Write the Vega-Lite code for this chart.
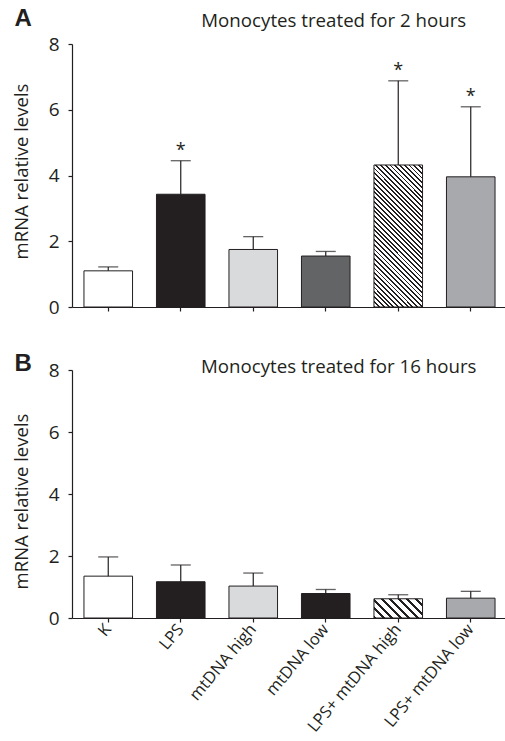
{
  "$schema": "https://vega.github.io/schema/vega-lite/v6.json",
  "padding": {"left": 12, "top": 7, "right": 0, "bottom": 0},
  "background": "white",
  "spacing": 35,
  "config": {
    "view": {"stroke": null},
    "font": "Open Sans",
    "axis": {
      "labelFont": "Open Sans", "titleFont": "Open Sans", "titleFontWeight": "normal",
      "labelColor": "#231f20", "titleColor": "#231f20", "domainColor": "#231f20", "tickColor": "#231f20",
      "domainWidth": 1.2, "tickWidth": 1.2, "tickSize": 4, "grid": false
    }
  },
  "datasets": {
    "main": [
      {"panel": "A", "group": "K", "mean": 1.1, "upper": 1.22, "star": ""},
      {"panel": "A", "group": "LPS", "mean": 3.43, "upper": 4.45, "star": "*"},
      {"panel": "A", "group": "mtDNA high", "mean": 1.75, "upper": 2.14, "star": ""},
      {"panel": "A", "group": "mtDNA low", "mean": 1.55, "upper": 1.69, "star": ""},
      {"panel": "A", "group": "LPS+ mtDNA high", "mean": 4.32, "upper": 6.88, "star": "*"},
      {"panel": "A", "group": "LPS+ mtDNA low", "mean": 3.96, "upper": 6.09, "star": "*"},
      {"panel": "B", "group": "K", "mean": 1.35, "upper": 1.97, "star": ""},
      {"panel": "B", "group": "LPS", "mean": 1.17, "upper": 1.71, "star": ""},
      {"panel": "B", "group": "mtDNA high", "mean": 1.03, "upper": 1.45, "star": ""},
      {"panel": "B", "group": "mtDNA low", "mean": 0.79, "upper": 0.92, "star": ""},
      {"panel": "B", "group": "LPS+ mtDNA high", "mean": 0.62, "upper": 0.75, "star": ""},
      {"panel": "B", "group": "LPS+ mtDNA low", "mean": 0.64, "upper": 0.86, "star": ""}
    ]
  },
  "vconcat": [
    {
      "width": 435, "height": 263,
      "layer": [
        {
          "data": {"name": "main"},
          "transform": [{"filter": "datum.panel === 'A' && datum.group !== 'LPS+ mtDNA high'"}],
          "mark": {"type": "bar", "stroke": "#231f20", "strokeWidth": 1},
          "encoding": {
            "x": {"field": "group", "type": "nominal", "sort": null,
              "scale": {"domain": ["K", "LPS", "mtDNA high", "mtDNA low", "LPS+ mtDNA high", "LPS+ mtDNA low"], "paddingInner": 0.33, "paddingOuter": 0.165},
              "axis": {"title": null, "labels": false}},
            "y": {"field": "mean", "type": "quantitative", "scale": {"domain": [0, 8], "nice": false},
              "axis": {"values": [0, 2, 4, 6, 8], "title": "mRNA relative levels", "titleFontSize": 18.5, "titleY": 127, "labelFontSize": 19, "labelPadding": 9, "titlePadding": 17}},
            "color": {"field": "group", "type": "nominal", "legend": null,
              "scale": {"domain": ["K", "LPS", "mtDNA high", "mtDNA low", "LPS+ mtDNA low"], "range": ["#ffffff", "#231f20", "#d9dadb", "#636466", "#a7a9ac"]}}
          }
        },
        {
          "data": {"name": "main"},
          "transform": [{"filter": "datum.panel === 'A' && datum.group === 'LPS+ mtDNA high'"}],
          "mark": {"type": "bar", "stroke": "#231f20", "strokeWidth": 1,
            "fill": {"gradient": "linear", "x1": 0, "y1": 1, "x2": 0.411, "y2": -0.2, "stops": [
              {"offset": 0, "color": "#231f20"}, {"offset": 0.01, "color": "#231f20"}, {"offset": 0.01, "color": "#ffffff"}, {"offset": 0.025, "color": "#ffffff"},
              {"offset": 0.025, "color": "#231f20"}, {"offset": 0.035, "color": "#231f20"}, {"offset": 0.035, "color": "#ffffff"}, {"offset": 0.05, "color": "#ffffff"},
              {"offset": 0.05, "color": "#231f20"}, {"offset": 0.06, "color": "#231f20"}, {"offset": 0.06, "color": "#ffffff"}, {"offset": 0.075, "color": "#ffffff"},
              {"offset": 0.075, "color": "#231f20"}, {"offset": 0.085, "color": "#231f20"}, {"offset": 0.085, "color": "#ffffff"}, {"offset": 0.1, "color": "#ffffff"},
              {"offset": 0.1, "color": "#231f20"}, {"offset": 0.11, "color": "#231f20"}, {"offset": 0.11, "color": "#ffffff"}, {"offset": 0.125, "color": "#ffffff"},
              {"offset": 0.125, "color": "#231f20"}, {"offset": 0.135, "color": "#231f20"}, {"offset": 0.135, "color": "#ffffff"}, {"offset": 0.15, "color": "#ffffff"},
              {"offset": 0.15, "color": "#231f20"}, {"offset": 0.16, "color": "#231f20"}, {"offset": 0.16, "color": "#ffffff"}, {"offset": 0.175, "color": "#ffffff"},
              {"offset": 0.175, "color": "#231f20"}, {"offset": 0.185, "color": "#231f20"}, {"offset": 0.185, "color": "#ffffff"}, {"offset": 0.2, "color": "#ffffff"},
              {"offset": 0.2, "color": "#231f20"}, {"offset": 0.21, "color": "#231f20"}, {"offset": 0.21, "color": "#ffffff"}, {"offset": 0.225, "color": "#ffffff"},
              {"offset": 0.225, "color": "#231f20"}, {"offset": 0.235, "color": "#231f20"}, {"offset": 0.235, "color": "#ffffff"}, {"offset": 0.25, "color": "#ffffff"},
              {"offset": 0.25, "color": "#231f20"}, {"offset": 0.26, "color": "#231f20"}, {"offset": 0.26, "color": "#ffffff"}, {"offset": 0.275, "color": "#ffffff"},
              {"offset": 0.275, "color": "#231f20"}, {"offset": 0.285, "color": "#231f20"}, {"offset": 0.285, "color": "#ffffff"}, {"offset": 0.3, "color": "#ffffff"},
              {"offset": 0.3, "color": "#231f20"}, {"offset": 0.31, "color": "#231f20"}, {"offset": 0.31, "color": "#ffffff"}, {"offset": 0.325, "color": "#ffffff"},
              {"offset": 0.325, "color": "#231f20"}, {"offset": 0.335, "color": "#231f20"}, {"offset": 0.335, "color": "#ffffff"}, {"offset": 0.35, "color": "#ffffff"},
              {"offset": 0.35, "color": "#231f20"}, {"offset": 0.36, "color": "#231f20"}, {"offset": 0.36, "color": "#ffffff"}, {"offset": 0.375, "color": "#ffffff"},
              {"offset": 0.375, "color": "#231f20"}, {"offset": 0.385, "color": "#231f20"}, {"offset": 0.385, "color": "#ffffff"}, {"offset": 0.4, "color": "#ffffff"},
              {"offset": 0.4, "color": "#231f20"}, {"offset": 0.41, "color": "#231f20"}, {"offset": 0.41, "color": "#ffffff"}, {"offset": 0.425, "color": "#ffffff"},
              {"offset": 0.425, "color": "#231f20"}, {"offset": 0.435, "color": "#231f20"}, {"offset": 0.435, "color": "#ffffff"}, {"offset": 0.45, "color": "#ffffff"},
              {"offset": 0.45, "color": "#231f20"}, {"offset": 0.46, "color": "#231f20"}, {"offset": 0.46, "color": "#ffffff"}, {"offset": 0.475, "color": "#ffffff"},
              {"offset": 0.475, "color": "#231f20"}, {"offset": 0.485, "color": "#231f20"}, {"offset": 0.485, "color": "#ffffff"}, {"offset": 0.5, "color": "#ffffff"},
              {"offset": 0.5, "color": "#231f20"}, {"offset": 0.51, "color": "#231f20"}, {"offset": 0.51, "color": "#ffffff"}, {"offset": 0.525, "color": "#ffffff"},
              {"offset": 0.525, "color": "#231f20"}, {"offset": 0.535, "color": "#231f20"}, {"offset": 0.535, "color": "#ffffff"}, {"offset": 0.55, "color": "#ffffff"},
              {"offset": 0.55, "color": "#231f20"}, {"offset": 0.56, "color": "#231f20"}, {"offset": 0.56, "color": "#ffffff"}, {"offset": 0.575, "color": "#ffffff"},
              {"offset": 0.575, "color": "#231f20"}, {"offset": 0.585, "color": "#231f20"}, {"offset": 0.585, "color": "#ffffff"}, {"offset": 0.6, "color": "#ffffff"},
              {"offset": 0.6, "color": "#231f20"}, {"offset": 0.61, "color": "#231f20"}, {"offset": 0.61, "color": "#ffffff"}, {"offset": 0.625, "color": "#ffffff"},
              {"offset": 0.625, "color": "#231f20"}, {"offset": 0.635, "color": "#231f20"}, {"offset": 0.635, "color": "#ffffff"}, {"offset": 0.65, "color": "#ffffff"},
              {"offset": 0.65, "color": "#231f20"}, {"offset": 0.66, "color": "#231f20"}, {"offset": 0.66, "color": "#ffffff"}, {"offset": 0.675, "color": "#ffffff"},
              {"offset": 0.675, "color": "#231f20"}, {"offset": 0.685, "color": "#231f20"}, {"offset": 0.685, "color": "#ffffff"}, {"offset": 0.7, "color": "#ffffff"},
              {"offset": 0.7, "color": "#231f20"}, {"offset": 0.71, "color": "#231f20"}, {"offset": 0.71, "color": "#ffffff"}, {"offset": 0.725, "color": "#ffffff"},
              {"offset": 0.725, "color": "#231f20"}, {"offset": 0.735, "color": "#231f20"}, {"offset": 0.735, "color": "#ffffff"}, {"offset": 0.75, "color": "#ffffff"},
              {"offset": 0.75, "color": "#231f20"}, {"offset": 0.76, "color": "#231f20"}, {"offset": 0.76, "color": "#ffffff"}, {"offset": 0.775, "color": "#ffffff"},
              {"offset": 0.775, "color": "#231f20"}, {"offset": 0.785, "color": "#231f20"}, {"offset": 0.785, "color": "#ffffff"}, {"offset": 0.8, "color": "#ffffff"},
              {"offset": 0.8, "color": "#231f20"}, {"offset": 0.81, "color": "#231f20"}, {"offset": 0.81, "color": "#ffffff"}, {"offset": 0.825, "color": "#ffffff"},
              {"offset": 0.825, "color": "#231f20"}, {"offset": 0.835, "color": "#231f20"}, {"offset": 0.835, "color": "#ffffff"}, {"offset": 0.85, "color": "#ffffff"},
              {"offset": 0.85, "color": "#231f20"}, {"offset": 0.86, "color": "#231f20"}, {"offset": 0.86, "color": "#ffffff"}, {"offset": 0.875, "color": "#ffffff"},
              {"offset": 0.875, "color": "#231f20"}, {"offset": 0.885, "color": "#231f20"}, {"offset": 0.885, "color": "#ffffff"}, {"offset": 0.9, "color": "#ffffff"},
              {"offset": 0.9, "color": "#231f20"}, {"offset": 0.91, "color": "#231f20"}, {"offset": 0.91, "color": "#ffffff"}, {"offset": 0.925, "color": "#ffffff"},
              {"offset": 0.925, "color": "#231f20"}, {"offset": 0.935, "color": "#231f20"}, {"offset": 0.935, "color": "#ffffff"}, {"offset": 0.95, "color": "#ffffff"},
              {"offset": 0.95, "color": "#231f20"}, {"offset": 0.96, "color": "#231f20"}, {"offset": 0.96, "color": "#ffffff"}, {"offset": 0.975, "color": "#ffffff"},
              {"offset": 0.975, "color": "#231f20"}, {"offset": 0.985, "color": "#231f20"}, {"offset": 0.985, "color": "#ffffff"}, {"offset": 1, "color": "#ffffff"}
            ]}},
          "encoding": {
            "x": {"field": "group", "type": "nominal"},
            "y": {"field": "mean", "type": "quantitative"}
          }
        },
        {
          "data": {"name": "main"},
          "transform": [{"filter": "datum.panel === 'A'"}],
          "mark": {"type": "rule", "color": "#231f20", "strokeWidth": 1.2},
          "encoding": {
            "x": {"field": "group", "type": "nominal"},
            "y": {"field": "mean", "type": "quantitative"},
            "y2": {"field": "upper"}
          }
        },
        {
          "data": {"name": "main"},
          "transform": [{"filter": "datum.panel === 'A'"}],
          "mark": {"type": "tick", "color": "#231f20", "size": 20, "thickness": 1.3, "orient": "horizontal"},
          "encoding": {
            "x": {"field": "group", "type": "nominal"},
            "y": {"field": "upper", "type": "quantitative"}
          }
        },
        {
          "data": {"name": "main"},
          "transform": [{"filter": "datum.panel === 'A'"}],
          "mark": {"type": "text", "color": "#231f20", "fontSize": 18, "baseline": "alphabetic", "dy": -5},
          "encoding": {
            "x": {"field": "group", "type": "nominal"},
            "y": {"field": "upper", "type": "quantitative"},
            "text": {"field": "star"}
          }
        },
        {
          "data": {"values": [{"label": "A", "title": "Monocytes treated for 2 hours"}]},
          "mark": {"type": "text", "color": "#231f20", "fontSize": 24, "fontWeight": "bold", "font": "Liberation Sans", "baseline": "middle", "dx": -85, "dy": -25},
          "encoding": {
            "x": {"datum": "K"},
            "y": {"datum": 8},
            "text": {"field": "label"}
          }
        },
        {
          "data": {"values": [{"label": "A", "title": "Monocytes treated for 2 hours"}]},
          "mark": {"type": "text", "color": "#231f20", "fontSize": 18.7, "baseline": "middle", "dx": 8, "dy": -23},
          "encoding": {
            "x": {"datum": "mtDNA low"},
            "y": {"datum": 8},
            "text": {"field": "title"}
          }
        }
      ]
    },
    {
      "width": 435, "height": 248,
      "layer": [
        {
          "data": {"name": "main"},
          "transform": [{"filter": "datum.panel === 'B' && datum.group !== 'LPS+ mtDNA high'"}],
          "mark": {"type": "bar", "stroke": "#231f20", "strokeWidth": 1},
          "encoding": {
            "x": {"field": "group", "type": "nominal", "sort": null,
              "scale": {"domain": ["K", "LPS", "mtDNA high", "mtDNA low", "LPS+ mtDNA high", "LPS+ mtDNA low"], "paddingInner": 0.33, "paddingOuter": 0.165},
              "axis": {"title": null, "labelAngle": -50, "labelFontSize": 16.5, "labelPadding": 4}},
            "y": {"field": "mean", "type": "quantitative", "scale": {"domain": [0, 8], "nice": false},
              "axis": {"values": [0, 2, 4, 6, 8], "title": "mRNA relative levels", "titleFontSize": 18.5, "titleY": 131, "labelFontSize": 19, "labelPadding": 9, "titlePadding": 17}},
            "color": {"field": "group", "type": "nominal", "legend": null,
              "scale": {"domain": ["K", "LPS", "mtDNA high", "mtDNA low", "LPS+ mtDNA low"], "range": ["#ffffff", "#231f20", "#d9dadb", "#231f20", "#a7a9ac"]}}
          }
        },
        {
          "data": {"name": "main"},
          "transform": [{"filter": "datum.panel === 'B' && datum.group === 'LPS+ mtDNA high'"}],
          "mark": {"type": "bar", "stroke": "#231f20", "strokeWidth": 1,
            "fill": {"gradient": "linear", "x1": 0, "y1": 1, "x2": 1.207, "y2": 0.523, "stops": [
              {"offset": 0, "color": "#231f20"}, {"offset": 0.04, "color": "#231f20"}, {"offset": 0.04, "color": "#ffffff"}, {"offset": 0.125, "color": "#ffffff"},
              {"offset": 0.125, "color": "#231f20"}, {"offset": 0.165, "color": "#231f20"}, {"offset": 0.165, "color": "#ffffff"}, {"offset": 0.25, "color": "#ffffff"},
              {"offset": 0.25, "color": "#231f20"}, {"offset": 0.29, "color": "#231f20"}, {"offset": 0.29, "color": "#ffffff"}, {"offset": 0.375, "color": "#ffffff"},
              {"offset": 0.375, "color": "#231f20"}, {"offset": 0.415, "color": "#231f20"}, {"offset": 0.415, "color": "#ffffff"}, {"offset": 0.5, "color": "#ffffff"},
              {"offset": 0.5, "color": "#231f20"}, {"offset": 0.54, "color": "#231f20"}, {"offset": 0.54, "color": "#ffffff"}, {"offset": 0.625, "color": "#ffffff"},
              {"offset": 0.625, "color": "#231f20"}, {"offset": 0.665, "color": "#231f20"}, {"offset": 0.665, "color": "#ffffff"}, {"offset": 0.75, "color": "#ffffff"},
              {"offset": 0.75, "color": "#231f20"}, {"offset": 0.79, "color": "#231f20"}, {"offset": 0.79, "color": "#ffffff"}, {"offset": 0.875, "color": "#ffffff"},
              {"offset": 0.875, "color": "#231f20"}, {"offset": 0.915, "color": "#231f20"}, {"offset": 0.915, "color": "#ffffff"}, {"offset": 1, "color": "#ffffff"}
            ]}},
          "encoding": {
            "x": {"field": "group", "type": "nominal"},
            "y": {"field": "mean", "type": "quantitative"}
          }
        },
        {
          "data": {"name": "main"},
          "transform": [{"filter": "datum.panel === 'B'"}],
          "mark": {"type": "rule", "color": "#231f20", "strokeWidth": 1.2},
          "encoding": {
            "x": {"field": "group", "type": "nominal"},
            "y": {"field": "mean", "type": "quantitative"},
            "y2": {"field": "upper"}
          }
        },
        {
          "data": {"name": "main"},
          "transform": [{"filter": "datum.panel === 'B'"}],
          "mark": {"type": "tick", "color": "#231f20", "size": 20, "thickness": 1.3, "orient": "horizontal"},
          "encoding": {
            "x": {"field": "group", "type": "nominal"},
            "y": {"field": "upper", "type": "quantitative"}
          }
        },
        {
          "data": {"values": [{"label": "B", "title": "Monocytes treated for 16 hours"}]},
          "mark": {"type": "text", "color": "#231f20", "fontSize": 24, "fontWeight": "bold", "font": "Liberation Sans", "baseline": "middle", "dx": -85, "dy": -6},
          "encoding": {
            "x": {"datum": "K"},
            "y": {"datum": 8},
            "text": {"field": "label"}
          }
        },
        {
          "data": {"values": [{"label": "B", "title": "Monocytes treated for 16 hours"}]},
          "mark": {"type": "text", "color": "#231f20", "fontSize": 18.7, "baseline": "middle", "dx": 13, "dy": -3},
          "encoding": {
            "x": {"datum": "mtDNA low"},
            "y": {"datum": 8},
            "text": {"field": "title"}
          }
        }
      ]
    }
  ],
  "resolve": {"scale": {"color": "independent", "x": "independent", "y": "independent"}}
}
